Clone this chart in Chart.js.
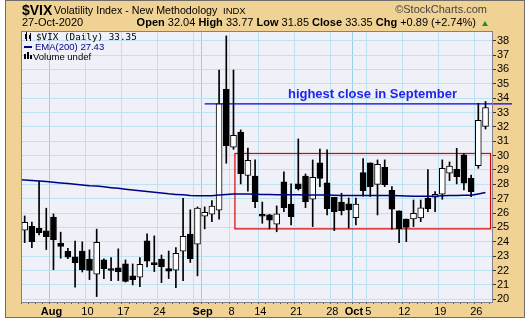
<!DOCTYPE html>
<html>
<head>
<meta charset="utf-8">
<script src="https://cdn.jsdelivr.net/npm/chart.js@4.4.1/dist/chart.umd.min.js"></script>
<style>
  html, body { margin: 0; padding: 0; background: #fff; }
  #wrap { position: relative; width: 528px; height: 320px; }
  #wrap canvas { position: absolute; left: 0; top: 0; }
  .t { position: absolute; white-space: nowrap; font-family: "Liberation Sans", Arial, sans-serif; line-height: 1; color: #000; }
  .lg { position: absolute; white-space: nowrap; font-family: "Liberation Sans", Arial, sans-serif; font-size: 9.5px; line-height: 10px; }
  .ico { position: absolute; background: #000; }
</style>
</head>
<body>
<div id="wrap">
  <canvas id="chart" width="528" height="320"></canvas>
  <div class="t" style="left:22px;top:3px;font-size:14px;font-weight:bold;">$VIX</div>
  <div class="t" style="left:54px;top:5px;font-size:10.7px;">Volatility Index - New Methodology</div>
  <div class="t" style="left:223px;top:6px;font-size:9.5px;">INDX</div>
  <div class="t" style="right:41px;top:4px;font-size:11px;color:#444;">&copy;StockCharts.com</div>
  <div class="t" id="day" style="left:22px;top:17px;font-size:11px;"></div>
  <div class="t" id="quote" style="right:52px;top:17px;font-size:11px;"></div>
  <div style="position:absolute;left:482px;top:21px;width:0;height:0;border-left:3px solid transparent;border-right:3px solid transparent;border-bottom:5px solid #2a8a2a;"></div>

  <div class="ico" style="left:25px;top:34px;width:2px;height:5px;"></div>
  <div class="ico" style="left:26px;top:32px;width:1px;height:9px;"></div>
  <div class="ico" style="left:29px;top:35px;width:2px;height:4px;"></div>
  <div class="ico" style="left:30px;top:33px;width:1px;height:8px;"></div>
  <div class="lg" id="lg1" style="left:36px;top:32px;font-family:'DejaVu Sans Mono',monospace;font-size:9.3px;"></div>
  <div class="ico" style="left:24px;top:46px;width:8px;height:2px;background:#000080;"></div>
  <div class="lg" id="lg2" style="left:35px;top:42px;color:#000080;"></div>
  <div class="ico" style="left:24px;top:54px;width:2px;height:5px;"></div>
  <div class="ico" style="left:27px;top:52px;width:2px;height:7px;"></div>
  <div class="ico" style="left:30px;top:55px;width:2px;height:4px;"></div>
  <div class="lg" style="left:33px;top:52px;">Volume undef</div>
</div>
<script>
// trading days shown on the chart
const dates = [
  '2020-07-28','2020-07-29','2020-07-30','2020-07-31',
  '2020-08-03','2020-08-04','2020-08-05','2020-08-06','2020-08-07',
  '2020-08-10','2020-08-11','2020-08-12','2020-08-13','2020-08-14',
  '2020-08-17','2020-08-18','2020-08-19','2020-08-20','2020-08-21',
  '2020-08-24','2020-08-25','2020-08-26','2020-08-27','2020-08-28',
  '2020-08-31','2020-09-01','2020-09-02','2020-09-03','2020-09-04',
  '2020-09-08','2020-09-09','2020-09-10','2020-09-11',
  '2020-09-14','2020-09-15','2020-09-16','2020-09-17','2020-09-18',
  '2020-09-21','2020-09-22','2020-09-23','2020-09-24','2020-09-25',
  '2020-09-28','2020-09-29','2020-09-30','2020-10-01','2020-10-02',
  '2020-10-05','2020-10-06','2020-10-07','2020-10-08','2020-10-09',
  '2020-10-12','2020-10-13','2020-10-14','2020-10-15','2020-10-16',
  '2020-10-19','2020-10-20','2020-10-21','2020-10-22','2020-10-23',
  '2020-10-26','2020-10-27'
];
const opens = [
  24.81, 25.08, 24.94, 24.76,
  25.73, 23.90, 23.34, 22.95, 23.36,
  22.80, 21.74, 22.74, 22.11, 22.18,
  22.46, 21.63, 21.53, 24.06, 22.52,
  22.80, 22.13, 22.02, 23.34, 24.53,
  23.83, 25.78, 25.92, 26.20, 34.62,
  30.58, 31.63, 28.63, 28.58,
  25.82, 25.87, 25.22, 28.17, 26.62,
  28.03, 28.58, 26.96, 29.50, 28.10,
  27.10, 26.77, 26.64, 25.68, 28.82,
  29.49, 28.00, 29.19, 27.59, 26.15,
  25.59, 25.59, 25.66, 27.05, 27.10,
  27.31, 28.77, 29.05, 30.05, 28.42,
  29.30, 32.04
];
const highs = [
  25.80, 25.38, 28.22, 26.34,
  25.94, 24.67, 23.55, 24.05, 24.00,
  23.44, 24.88, 22.81, 22.90, 23.51,
  22.74, 22.46, 22.90, 24.55, 24.41,
  23.08, 23.36, 23.60, 27.03, 26.23,
  26.43, 26.43, 26.87, 35.96, 38.33,
  35.96, 31.79, 30.53, 29.70,
  26.77, 25.92, 26.50, 28.87, 28.03,
  31.16, 28.72, 29.70, 30.46, 30.40,
  27.10, 27.38, 27.05, 27.05, 29.80,
  29.49, 29.70, 29.70, 27.84, 26.15,
  25.59, 26.91, 26.91, 29.02, 27.49,
  29.70, 29.56, 30.51, 30.12, 28.65,
  33.64, 33.77
];
const lows = [
  23.94, 23.60, 24.48, 23.46,
  22.06, 22.86, 22.83, 20.84, 21.90,
  21.37, 20.19, 21.44, 21.30, 21.30,
  21.20, 21.00, 20.88, 22.25, 21.93,
  21.16, 21.44, 20.81, 21.30, 22.56,
  21.63, 24.90, 25.40, 25.57, 29.47,
  30.44, 28.03, 27.52, 26.38,
  25.29, 24.90, 24.70, 26.10, 25.18,
  27.60, 26.38, 25.06, 27.84, 25.87,
  24.78, 25.87, 24.96, 25.17, 27.17,
  27.15, 25.87, 27.84, 24.88, 23.94,
  24.01, 25.06, 25.40, 26.10, 26.10,
  26.96, 28.26, 28.03, 27.61, 27.15,
  29.12, 31.85
];
const closes = [
  25.36, 24.01, 24.64, 24.36,
  24.15, 23.68, 22.93, 22.55, 22.06,
  22.00, 23.97, 22.13, 22.00, 21.93,
  21.25, 21.37, 22.44, 22.65, 22.41,
  22.27, 21.95, 23.20, 24.39, 22.83,
  26.34, 26.06, 26.48, 33.60, 30.69,
  31.42, 28.74, 29.68, 26.80,
  25.78, 25.50, 25.94, 26.38, 25.75,
  27.70, 26.80, 28.49, 28.41, 26.30,
  26.10, 26.17, 26.22, 26.62, 27.56,
  27.84, 29.40, 27.98, 26.27, 24.92,
  25.01, 25.99, 26.36, 26.31, 27.31,
  29.12, 29.28, 28.54, 28.08, 27.49,
  32.46, 33.35
];
// EMA(200); first value is the session before the first candle
const ema200 = [
  28.33,
  28.30, 28.27, 28.24, 28.19,
  28.14, 28.10, 28.06, 28.01, 27.96,
  27.91, 27.88, 27.83, 27.77, 27.72,
  27.66, 27.60, 27.55, 27.50, 27.45,
  27.40, 27.34, 27.30, 27.27, 27.22,
  27.21, 27.20, 27.20, 27.26, 27.29,
  27.32, 27.32, 27.32, 27.31,
  27.30, 27.29, 27.28, 27.28, 27.27,
  27.27, 27.26, 27.26, 27.26, 27.25,
  27.24, 27.23, 27.23, 27.22, 27.22,
  27.22, 27.23, 27.23, 27.22, 27.20,
  27.19, 27.18, 27.18, 27.18, 27.18,
  27.20, 27.22, 27.23, 27.24, 27.24,
  27.33, 27.43
];
const yTicks = [20,21,22,23,24,25,26,27,28,29,30,31,32,33,34,35,36,37,38];
const monthNames = ['Jan','Feb','Mar','Apr','May','Jun','Jul','Aug','Sep','Oct','Nov','Dec'];
// trading range box (day index, price)
const boxDays = [29.2, 64.7];
const boxPrices = [24.9, 30.15];
const noteText = 'highest close in September';

const days = dates.map(d => new Date(d + 'T00:00:00'));
const n = dates.length;
const last = n - 1;

const isMonth = [], isWeek = [];
days.forEach((d, i) => {
  const p = days[i - 1];
  isMonth[i] = i > 0 && d.getMonth() !== p.getMonth();
  isWeek[i] = i > 0 && (d - p) > 2 * 86400000;
});
const tickLabels = days.map((d, i) => {
  if (isMonth[i]) return monthNames[d.getMonth()];
  if (isWeek[i] && !isMonth[i + 1] && !isMonth[i - 1]) return String(d.getDate());
  return '';
});

const sepIdx = days.map((d, i) => d.getMonth() === 8 ? i : -1).filter(i => i >= 0);
const sepHigh = Math.max(...sepIdx.map(i => closes[i]));

// header texts
const dd = days[last];
document.getElementById('day').textContent =
  String(dd.getDate()).padStart(2, '0') + '-' + monthNames[dd.getMonth()] + '-' + dd.getFullYear();
const chg = closes[last] - closes[last - 1];
const pct = chg / closes[last - 1] * 100;
document.getElementById('quote').innerHTML =
  '<b>Open</b> ' + opens[last].toFixed(2) + ' <b>High</b> ' + highs[last].toFixed(2) +
  ' <b>Low</b> ' + lows[last].toFixed(2) + ' <b>Close</b> ' + closes[last].toFixed(2) +
  ' <b>Chg</b> +' + chg.toFixed(2) + ' (+' + pct.toFixed(2) + '%)';
document.getElementById('lg1').textContent = '$VIX (Daily) ' + closes[last].toFixed(2);
document.getElementById('lg2').textContent = 'EMA(200) ' + ema200[ema200.length - 1].toFixed(2);

const decor = {
  id: 'decor',
  beforeDraw(chart) {
    const { ctx, chartArea: a } = chart;
    ctx.save();
    ctx.fillStyle = '#fff';
    ctx.fillRect(0, 0, chart.width, chart.height);
    ctx.fillStyle = '#f0d294';
    ctx.fillRect(5, 0, 520, 318);
    ctx.strokeStyle = '#6e6e6e';
    ctx.lineWidth = 1;
    ctx.strokeRect(5.5, 0.5, 519, 317);
    ctx.fillStyle = '#eff0f8';
    ctx.fillRect(a.left, a.top, a.right - a.left, a.bottom - a.top);
    ctx.restore();
  },
  beforeDatasetsDraw(chart) {
    const { ctx, chartArea: a } = chart;
    const xs = chart.scales.x, ys = chart.scales.y;
    ctx.save();
    // range box
    ctx.strokeStyle = '#e00000';
    ctx.lineWidth = 1.2;
    const x0 = xs.getPixelForValue(boxDays[0]), x1 = xs.getPixelForValue(boxDays[1]);
    const y0 = ys.getPixelForValue(boxPrices[1]), y1 = ys.getPixelForValue(boxPrices[0]);
    ctx.strokeRect(x0, y0, x1 - x0, y1 - y0);
    // highest September close
    const yl = ys.getPixelForValue(sepHigh);
    ctx.strokeStyle = '#0000ee';
    ctx.beginPath();
    ctx.moveTo(xs.getPixelForValue(sepIdx[0]), yl);
    ctx.lineTo(a.right + 19, yl);
    ctx.stroke();
    ctx.restore();
  },
  afterDatasetsDraw(chart) {
    const { ctx, chartArea: a } = chart;
    const xs = chart.scales.x, ys = chart.scales.y;
    ctx.save();
    ctx.fillStyle = '#2222ee';
    ctx.font = 'bold 13px "Liberation Sans", Arial, sans-serif';
    ctx.textAlign = 'center';
    ctx.textBaseline = 'alphabetic';
    ctx.fillText(noteText, xs.getPixelForValue(48.3), ys.getPixelForValue(sepHigh) - 6);
    ctx.strokeStyle = '#80808f';
    ctx.lineWidth = 1;
    ctx.strokeRect(a.left + 0.5, a.top + 0.5, a.right - a.left - 1, a.bottom - a.top);
    ctx.restore();
  }
};

new Chart(document.getElementById('chart'), {
  type: 'bar',
  plugins: [decor],
  data: {
    datasets: [{
      type: 'line',
      label: 'EMA(200)',
      data: ema200.map((v, i) => ({ x: i - 1, y: v })),
      borderColor: '#000080',
      borderWidth: 1.5,
      pointRadius: 0,
      tension: 0,
      clip: 0,
      order: 0
    }, {
      label: 'body',
      data: opens.map((o, i) => ({ x: i, y: [o, closes[i]] })),
      backgroundColor: closes.map((c, i) => c >= opens[i] ? '#ffffff' : '#000000'),
      borderColor: '#000',
      borderWidth: 1,
      borderSkipped: false,
      barThickness: 6,
      minBarLength: 2,
      grouped: false,
      order: 1
    }, {
      label: 'range',
      data: lows.map((l, i) => ({ x: i, y: [l, highs[i]] })),
      backgroundColor: '#000',
      borderWidth: 0,
      barThickness: 1,
      grouped: false,
      order: 2
    }]
  },
  options: {
    responsive: false,
    animation: false,
    layout: { padding: { left: 21, top: 31, right: 0, bottom: 0 } },
    plugins: {
      legend: { display: false },
      tooltip: { enabled: false }
    },
    scales: {
      x: {
        type: 'linear',
        min: -0.51,
        max: 65.04,
        offset: false,
        afterBuildTicks: s => { s.ticks = dates.map((d, i) => ({ value: i })); },
        afterFit: s => { s.height = 18; },
        border: { display: false },
        grid: {
          color: ctx => {
            const i = ctx.tick ? ctx.tick.value : -1;
            if (isMonth[i]) return '#9ccfe6';
            if (isWeek[i]) return '#bce3ef';
            return 'rgba(0,0,0,0)';
          },
          tickColor: '#555',
          tickLength: 2
        },
        ticks: {
          autoSkip: false,
          maxRotation: 0,
          padding: 1,
          labelOffset: -2,
          color: '#000',
          font: ctx => ({
            family: '"Liberation Sans", Arial, sans-serif',
            size: 11,
            weight: ctx.tick && isMonth[ctx.tick.value] ? 'bold' : 'normal'
          }),
          callback: v => tickLabels[v] || ''
        }
      },
      y: {
        type: 'linear',
        position: 'right',
        min: 19.81,
        max: 38.675,
        afterBuildTicks: s => { s.ticks = yTicks.map(v => ({ value: v })); },
        afterFit: s => { s.width = 35; },
        border: { display: false },
        grid: { color: '#bce3ef', tickColor: '#333', tickLength: 3 },
        ticks: {
          autoSkip: false,
          padding: 1,
          color: '#000',
          font: { family: '"Liberation Sans", Arial, sans-serif', size: 11 }
        }
      }
    }
  }
});
</script>
</body>
</html>
